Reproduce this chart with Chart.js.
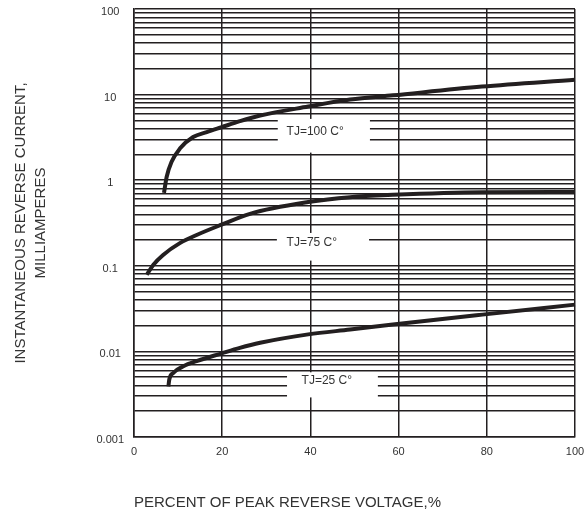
<!DOCTYPE html>
<html lang="en">
<head>
    <meta charset="UTF-8">
    <title>Reverse current vs voltage</title>
    <script src="https://cdn.jsdelivr.net/npm/chart.js"></script>
    <style>
        body { margin: 0; background: #fff; }
        #wrap { width: 584px; height: 512px; }
    </style>
</head>
<body>
    <div id="wrap">
        <canvas id="irChart" width="584" height="512"></canvas>
    </div>
    <script>
        // axes
        const xTicks = [0, 20, 40, 60, 80, 100];
        const yDecades = [0.001, 0.01, 0.1, 1, 10, 100];
        const minorSteps = [1, 2, 3, 4, 5, 6, 7, 8, 9];

        // curves (percent of Vrrm -> mA)
        const tj100X = [6.8, 7.4, 8.5, 10.4, 13.4, 16.5, 19.9, 24.0, 28.6, 39.5, 49, 58.7, 78.9, 100];
        const tj100Y = [0.71, 1.09, 1.63, 2.34, 3.19, 3.65, 4.17, 4.89, 5.7, 7.25, 8.75, 9.8, 12.4, 14.9];

        const tj75X = [2.9, 4.4, 6.6, 10.4, 14.2, 19.7, 26.3, 39.5, 49, 58.7, 79, 100];
        const tj75Y = [0.0786, 0.103, 0.134, 0.184, 0.229, 0.3, 0.405, 0.555, 0.634, 0.675, 0.725, 0.73];

        const tj25X = [7.8, 8.0, 8.9, 11.2, 14.2, 19.9, 24.0, 28.6, 39.5, 49, 58.7, 79, 100];
        const tj25Y = [0.0039, 0.0047, 0.0056, 0.0067, 0.0077, 0.0095, 0.011, 0.0126, 0.0158, 0.018, 0.0206, 0.0269, 0.0352];

        // curve labels sitting in white boxes
        const labelText = ['TJ=100 C\u00b0', 'TJ=75 C\u00b0', 'TJ=25 C\u00b0'];
        const labelX = [34.6, 34.6, 38.0];
        const labelY = [3.71, 0.185, 0.0046];
        const boxLeft = [32.6, 32.4, 34.7];
        const boxRight = [53.5, 53.3, 55.3];
        const boxTop = [5.2, 0.242, 0.0057];
        const boxBottom = [2.1, 0.115, 0.0029];

        const ink = '#231f20';
        const fontFam = '"Liberation Sans", Arial, sans-serif';

        function pts(xs, ys) {
            return xs.map((x, i) => ({ x: x, y: ys[i] }));
        }

        const tjLabels = {
            id: 'tjLabels',
            beforeDatasetsDraw(chart) {
                const { ctx, scales: { x, y } } = chart;
                ctx.save();
                labelText.forEach((txt, i) => {
                    const l = x.getPixelForValue(boxLeft[i]);
                    const r = x.getPixelForValue(boxRight[i]);
                    const t = y.getPixelForValue(boxTop[i]);
                    const b = y.getPixelForValue(boxBottom[i]);
                    ctx.fillStyle = '#fff';
                    ctx.fillRect(l, t, r - l, b - t);
                    ctx.fillStyle = '#333';
                    ctx.font = '12px ' + fontFam;
                    ctx.textBaseline = 'middle';
                    ctx.textAlign = 'left';
                    ctx.fillText(txt, x.getPixelForValue(labelX[i]), y.getPixelForValue(labelY[i]));
                });
                ctx.restore();
            }
        };

        const curveStyle = {
            borderColor: ink,
            borderWidth: 4,
            pointRadius: 0,
            fill: false,
            cubicInterpolationMode: 'monotone',
            borderCapStyle: 'butt',
            clip: false
        };

        new Chart(document.getElementById('irChart'), {
            type: 'line',
            data: {
                datasets: [
                    Object.assign({ label: 'TJ=100', data: pts(tj100X, tj100Y) }, curveStyle),
                    Object.assign({ label: 'TJ=75', data: pts(tj75X, tj75Y) }, curveStyle),
                    Object.assign({ label: 'TJ=25', data: pts(tj25X, tj25Y) }, curveStyle)
                ]
            },
            options: {
                responsive: false,
                animation: false,
                layout: { padding: { top: 9, right: 9, left: 0, bottom: 0 } },
                plugins: {
                    legend: { display: false },
                    tooltip: { enabled: false }
                },
                scales: {
                    x: {
                        type: 'linear',
                        min: xTicks[0],
                        max: xTicks[xTicks.length - 1],
                        afterBuildTicks: s => { s.ticks = xTicks.map(v => ({ value: v })); },
                        afterFit: s => {
                            s.height = 75;
                            s.paddingLeft = 0;
                            s.paddingRight = 0;
                        },
                        grid: { color: ink, lineWidth: 1.5, drawTicks: false },
                        border: { color: ink, width: 1.5 },
                        ticks: {
                            color: '#333',
                            font: { family: fontFam, size: 11 },
                            padding: 8,
                            maxRotation: 0
                        },
                        title: {
                            display: true,
                            text: 'PERCENT OF PEAK REVERSE VOLTAGE,%',
                            align: 'start',
                            color: '#333',
                            font: { family: fontFam, size: 15 },
                            padding: 0
                        }
                    },
                    y: {
                        type: 'logarithmic',
                        min: yDecades[0],
                        max: yDecades[yDecades.length - 1],
                        afterBuildTicks: s => {
                            const t = [];
                            yDecades.forEach((d, i) => {
                                minorSteps.forEach(m => {
                                    if (i < yDecades.length - 1 || m === 1) t.push({ value: d * m });
                                });
                            });
                            s.ticks = t;
                        },
                        afterFit: s => {
                            s.width = 134;
                            s.paddingTop = 0;
                            s.paddingBottom = 0;
                        },
                        grid: { color: ink, lineWidth: 1.5, drawTicks: false },
                        border: { color: ink, width: 1.5 },
                        ticks: {
                            autoSkip: false,
                            color: '#333',
                            font: { family: fontFam, size: 11 },
                            padding: 10,
                            labelOffset: 3,
                            crossAlign: 'center',
                            callback: v => (yDecades.includes(v) ? String(v) : '')
                        },
                        title: {
                            display: true,
                            text: ['INSTANTANEOUS REVERSE CURRENT,', 'MILLIAMPERES'],
                            color: '#333',
                            font: { family: fontFam, size: 15, lineHeight: 1.33 },
                            padding: { top: 11, bottom: 0 }
                        }
                    }
                }
            },
            plugins: [tjLabels]
        });
    </script>
</body>
</html>
